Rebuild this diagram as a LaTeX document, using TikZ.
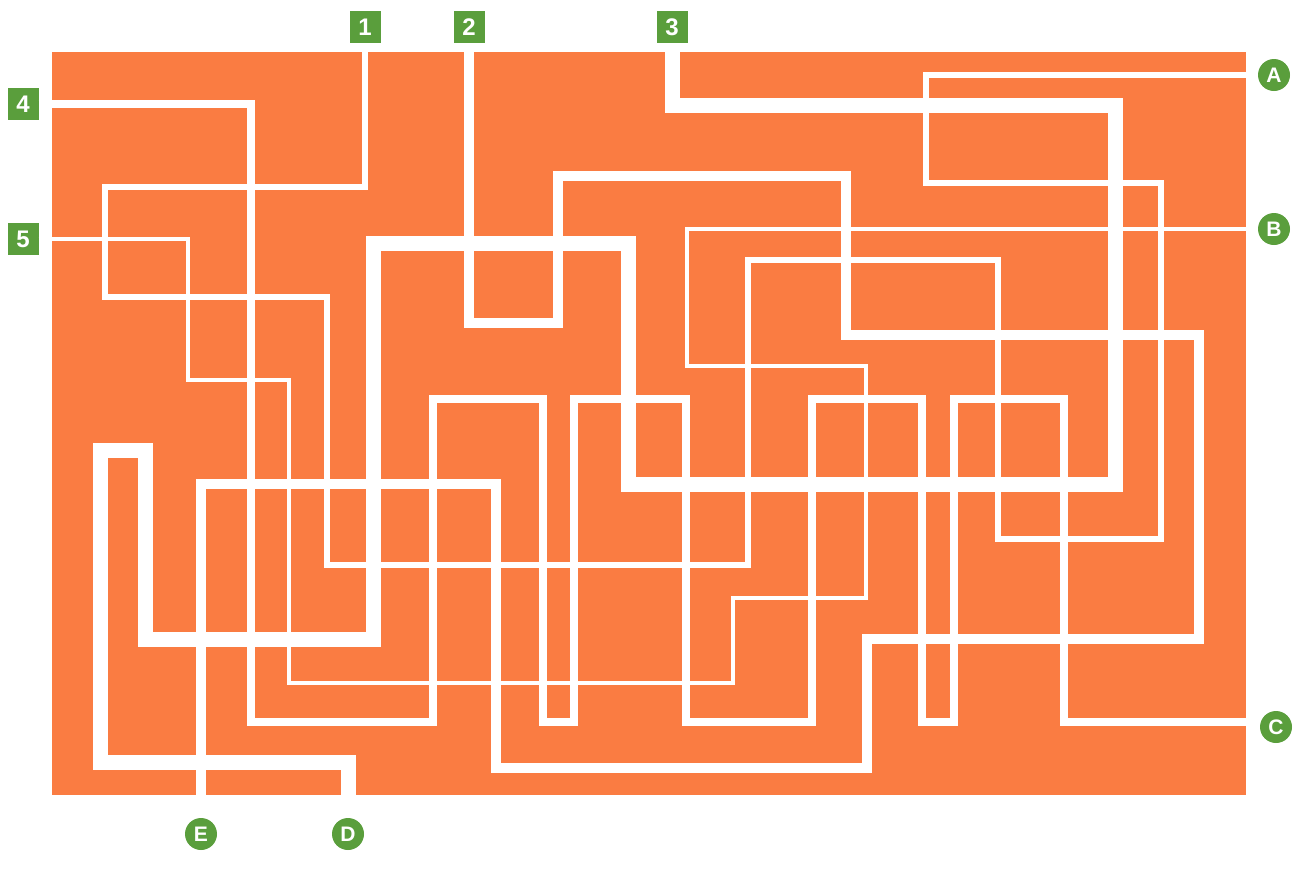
\documentclass[tikz,border=0pt]{standalone}
\usepackage{fontspec}
\setmainfont{Liberation Sans}
\definecolor{mazeorange}{RGB}{250,124,66}
\definecolor{mazegreen}{RGB}{90,158,60}
\begin{document}
\begin{tikzpicture}[x=1pt,y=-1pt,
  numbox/.style={fill=mazegreen,text=white,minimum width=31pt,minimum height=32pt,
    inner sep=0pt,font=\fontsize{24}{24}\selectfont\bfseries},
  letterdot/.style={circle,fill=mazegreen,text=white,minimum size=32pt,
    inner sep=0pt,font=\fontsize{21}{21}\selectfont\bfseries},
  route/.style={white,line join=miter}]
\useasboundingbox (0,0) rectangle (1298,871);
\fill[mazeorange] (52,52) rectangle (1246,795);
% start and end markers
\node[numbox] (s1) at (365,27) {1};
\node[numbox] (s2) at (469,27) {2};
\node[numbox] (s3) at (672,27) {3};
\node[numbox] (s4) at (23,104) {4};
\node[numbox] (s5) at (23,239) {5};
\node[letterdot] (A) at (1274,75) {A};
\node[letterdot] (B) at (1274,229) {B};
\node[letterdot] (C) at (1276,727) {C};
\node[letterdot] (D) at (348,834) {D};
\node[letterdot] (E) at (201,834) {E};
\coordinate (cEnd) at (1246,722);
% the five routes
\draw[route,line width=6.5pt] (s1.south) -- (365,187) -- (105,187) -- (105,297)
  -- (327,297) -- (327,565) -- (748,565) -- (748,260) -- (998,260) -- (998,539)
  -- (1161,539) -- (1161,183) -- (926,183) -- (926,75) -- (A.west);
\draw[route,line width=10.5pt] (s2.south) -- (469,323) -- (558,323) -- (558,176)
  -- (846,176) -- (846,335) -- (1199,335) -- (1199,639) -- (867,639) -- (867,768)
  -- (496,768) -- (496,484) -- (201,484) -- (E.north);
\draw[route,line width=15pt] (s3.south) -- (672,105) -- (1115,105) -- (1115,484)
  -- (628,484) -- (628,243) -- (373,243) -- (373,639) -- (145,639) -- (145,450)
  -- (100,450) -- (100,762) -- (348,762) -- (D.north);
\draw[route,line width=8.5pt] (s4.east) -- (251,104) -- (251,722) -- (433,722)
  -- (433,399) -- (543,399) -- (543,722) -- (574,722) -- (574,399) -- (686,399)
  -- (686,722) -- (812,722) -- (812,399) -- (922,399) -- (922,722) -- (954,722)
  -- (954,399) -- (1064,399) -- (1064,722) -- (cEnd);
\draw[route,line width=3.5pt] (s5.east) -- (188,239) -- (188,380) -- (289,380)
  -- (289,683) -- (733,683) -- (733,598) -- (866,598) -- (866,366) -- (687,366)
  -- (687,229) -- (B.west);
\end{tikzpicture}
\end{document}
